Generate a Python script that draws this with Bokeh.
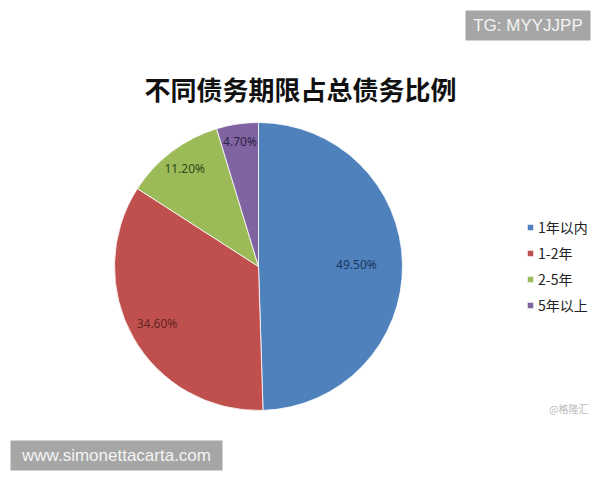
import numpy as np
from bokeh.plotting import figure
from bokeh.models import Range1d, Legend, LegendItem, ColumnDataSource
from bokeh.core.properties import value
from bokeh.embed import file_html
from bokeh.resources import INLINE

# ---- data ----
categories = ["1年以内", "1-2年", "2-5年", "5年以上"]
shares = [49.5, 34.6, 11.2, 4.7]
labels = ["49.50%", "34.60%", "11.20%", "4.70%"]
colors = ["#4f81bd", "#c0504d", "#9bbb59", "#8064a2"]
label_colors = ["#17375e", "#632523", "#2f4a17", "#2e2147"]
title_text = "不同债务期限占总债务比例"

W, H = 600, 480
p = figure(width=W, height=H, output_backend="svg", toolbar_location=None,
           x_range=Range1d(0, W), y_range=Range1d(0, H), min_border=0)
p.axis.visible = False
p.grid.visible = False
p.outline_line_color = None
p.background_fill_color = "white"

cx, cy, R = 258, 214, 144
frac = np.array(shares) / sum(shares)
cum = np.concatenate([[0], np.cumsum(frac)])
start = np.pi / 2 - cum[:-1] * 2 * np.pi
end = np.pi / 2 - cum[1:] * 2 * np.pi
mid = (start + end) / 2
label_r = np.array([0.68, 0.81, 0.85, 0.875]) * R

src = ColumnDataSource(dict(cat=categories, start=start, end=end, color=colors,
                            lx=cx + label_r * np.cos(mid), ly=cy + label_r * np.sin(mid),
                            lab=labels, lc=label_colors))

wedges = p.wedge(x=cx, y=cy, radius=R, start_angle="start", end_angle="end",
                 direction="clock", fill_color="color", line_color="white",
                 line_width=0.8, source=src)

p.text(x="lx", y="ly", text="lab", text_color="lc", text_align="center",
       text_baseline="middle", text_font_size="12px", text_font=value("Noto Sans"),
       source=src)

# title
p.text(x=[300], y=[392], text=[title_text], text_align="center", text_baseline="middle",
       text_font_size="26px", text_font_style="bold", text_color="#111111",
       text_font=value("Noto Sans CJK SC"))

legend = Legend(items=[LegendItem(label=c, renderers=[wedges], index=i)
                       for i, c in enumerate(categories)],
                location=(526, 165), orientation="vertical",
                glyph_width=8, glyph_height=8, label_height=14, spacing=6,
                label_standoff=4, padding=0, margin=0,
                border_line_color=None, background_fill_alpha=0,
                label_text_font_size="14px", label_text_color="#222222",
                label_text_font="Noto Sans CJK SC")
p.add_layout(legend)

# source note
p.text(x=[588], y=[72], text=["@格隆汇"], text_align="right", text_baseline="middle",
       text_font_size="10px", text_color="#bbbbbb", text_font=value("Noto Sans CJK SC"))

# watermark boxes
p.quad(left=[465, 10], right=[590, 222], bottom=[440, 10], top=[470, 40],
       fill_color="#a6a6a6", line_color=None)
p.text(x=[527.5, 116], y=[455, 25], text=["TG: MYYJJPP", "www.simonettacarta.com"],
       text_align="center", text_baseline="middle", text_font_size="17px",
       text_color="#f4f4f4", text_font=value("Liberation Sans"))

open("out.html", "w").write(file_html(p, INLINE))
